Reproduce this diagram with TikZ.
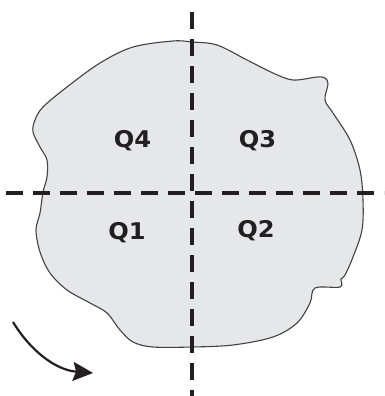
\documentclass[tikz,border=0pt]{standalone}
\usepackage{fontspec}
\newfontfamily\lblfont{DejaVu Sans}[BoldFont={DejaVu Sans Bold}]
\usetikzlibrary{arrows.meta}
\definecolor{shapefill}{HTML}{E6E7E8}
\definecolor{inkc}{HTML}{231F20}
\tikzset{
  outline/.style={draw=inkc!85, line width=1.1pt, fill=shapefill},
  axisline/.style={draw=inkc, line width=3.1pt, dash pattern=on 17pt off 10pt},
  qlabel/.style={font=\lblfont\bfseries\fontsize{23}{25}\selectfont, text=inkc, anchor=base, inner sep=0pt, xscale=1.05},
  rotarrow/.style={draw=inkc, line width=2.2pt, -{Stealth[length=20pt,width=19pt,inset=3pt]}}
}
\begin{document}
\begin{tikzpicture}[x=1pt,y=-1pt]
\useasboundingbox (0,0) rectangle (384,396);
% part outline
\draw[outline] plot[smooth cycle, tension=0.55] coordinates {
 (192,42) (217,45) (247,60) (273,73) (293,80) (317,77) (325,78) (328,84)
 (325,100) (333,113) (350,140) (360,170) (363,200) (362,230) (353,257)
 (345,275) (341,279) (340,287) (315,288) (310,303) (297,323) (273,337)
 (233,345) (192,347) (153,347) (133,342) (120,330) (107,313) (90,303)
 (67,290) (50,273) (40,252) (36,230) (40,213) (43,192) (47,177) (47,160)
 (40,147) (33,132) (35,120) (43,107) (67,87) (100,63) (133,47) (173,41)
};
% axes
\coordinate (vtop) at (192,12);
\coordinate (vbot) at (192,396);
\coordinate (hl) at (6,193);
\coordinate (hr) at (384,193);
\draw[axisline] (vtop) -- (vbot);
\draw[axisline] (hl) -- (hr);
% labels
\node[qlabel] (q4) at (132.5,147) {Q4};
\node[qlabel] (q3) at (257.5,147) {Q3};
\node[qlabel] (q1) at (127,239) {Q1};
\node[qlabel] (q2) at (256,237) {Q2};
% rotation arrow
\coordinate (as) at (13,322);
\coordinate (ae) at (93,373);
\draw[rotarrow] (as) .. controls (30,350) and (55,370) .. (ae);
\end{tikzpicture}
\end{document}
